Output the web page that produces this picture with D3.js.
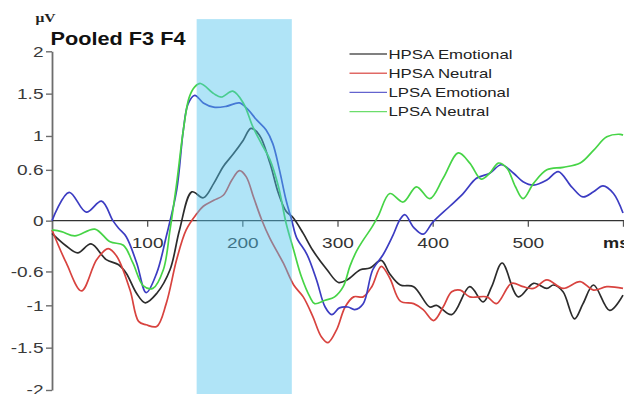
<!DOCTYPE html>
<html>
<head>
<meta charset="utf-8">
<script src="https://cdn.jsdelivr.net/npm/d3@7"></script>
<style>
  html, body { margin: 0; padding: 0; background: #fff; }
  svg { display: block; }
</style>
</head>
<body>
<div id="chart"></div>
<script>
// ---------- data (ms, µV) ----------
const hpsaEmotional = [
  [0,-0.15],[14,-0.29],[27,-0.38],[41,-0.275],[57,-0.46],[70,-0.52],[78,-0.62],[89,-0.86],[98,-0.97],
  [110,-0.86],[124,-0.58],[134,-0.11],[147,0.34],[159,0.27],[170,0.44],[180,0.64],[190,0.78],[201,0.95],
  [209,1.09],[218,1.01],[229,0.68],[238,0.32],[246,0.11],[253,0.04],[264,-0.15],[274,-0.35],[289,-0.58],
  [301,-0.73],[310,-0.70],[324,-0.58],[334,-0.56],[346,-0.47],[355,-0.63],[366,-0.76],[380,-0.78],
  [397,-1.02],[404,-1.0],[420,-1.11],[439,-0.78],[453,-0.96],[462,-0.78],[473,-0.50],[490,-0.90],
  [506,-0.74],[520,-0.80],[527,-0.76],[537,-0.84],[549,-1.16],[558,-0.98],[569,-0.76],[586,-1.06],[600,-0.88]
];
const hpsaNeutral = [
  [0,-0.11],[15,-0.50],[31,-0.83],[47,-0.46],[59,-0.33],[68,-0.42],[82,-0.82],[91,-1.19],[99,-1.23],
  [110,-1.25],[120,-0.98],[131,-0.46],[141,-0.11],[152,0.08],[159,0.17],[170,0.24],[180,0.30],[189,0.48],
  [197,0.59],[204,0.52],[212,0.27],[220,0.02],[229,-0.21],[243,-0.50],[254,-0.76],[264,-0.90],[274,-1.13],
  [283,-1.37],[290,-1.44],[299,-1.29],[308,-1.02],[317,-0.90],[327,-0.90],[336,-0.78],[346,-0.54],
  [355,-0.68],[366,-0.95],[380,-0.98],[390,-1.05],[401,-1.18],[411,-1.02],[420,-0.84],[429,-0.82],
  [439,-0.90],[457,-0.90],[467,-0.98],[483,-0.74],[495,-0.78],[506,-0.80],[520,-0.70],[537,-0.80],
  [555,-0.72],[569,-0.82],[583,-0.78],[600,-0.80]
];
const lpsaEmotional = [
  [0,0],[18,0.335],[36,0.10],[52,0.23],[64,0],[70,-0.09],[78,-0.19],[89,-0.5],[99,-0.85],[110,-0.62],
  [120,-0.19],[131,0.36],[138,1.07],[143,1.38],[150,1.48],[159,1.39],[170,1.34],[183,1.35],[197,1.39],
  [206,1.31],[215,1.19],[225,1.07],[232,0.91],[239,0.60],[246,0.24],[252,0.0],[257,-0.20],[268,-0.40],
  [278,-0.70],[287,-1.02],[294,-1.11],[302,-1.03],[311,-1.02],[318,-1.05],[327,-0.98],[337,-0.58],
  [348,-0.40],[358,-0.18],[366,0.02],[371,0.07],[380,-0.08],[390,-0.16],[400,-0.02],[418,0.17],[432,0.32],
  [446,0.50],[460,0.56],[472,0.66],[485,0.56],[495,0.46],[506,0.42],[520,0.48],[532,0.58],[546,0.40],
  [558,0.28],[569,0.34],[579,0.41],[590,0.32],[600,0.09]
];
const lpsaNeutral = [
  [0,-0.11],[10,-0.13],[24,-0.18],[45,-0.10],[61,-0.25],[75,-0.29],[85,-0.50],[96,-0.77],[106,-0.80],
  [117,-0.58],[124,-0.11],[131,0.44],[138,1.07],[144,1.45],[150,1.58],[156,1.62],[170,1.50],[178,1.46],
  [190,1.53],[201,1.39],[211,1.11],[220,0.91],[229,0.72],[238,0.40],[246,-0.03],[254,-0.35],[262,-0.66],
  [271,-0.90],[276,-0.98],[287,-0.94],[297,-0.90],[306,-0.78],[313,-0.54],[320,-0.36],[327,-0.23],
  [336,-0.08],[343,0.06],[355,0.32],[369,0.22],[383,0.40],[397,0.26],[411,0.50],[427,0.80],[439,0.68],
  [451,0.49],[460,0.56],[469,0.68],[478,0.62],[487,0.40],[495,0.26],[506,0.44],[520,0.60],[537,0.63],
  [555,0.68],[569,0.83],[583,0.99],[597,1.02],[600,1.01]
];
const seriesNames = ["HPSA Emotional", "HPSA Neutral", "LPSA Emotional", "LPSA Neutral"];
const seriesData = [hpsaEmotional, hpsaNeutral, lpsaEmotional, lpsaNeutral];
const seriesColors = ["#2c2c2c", "#d8433f", "#3c3cc2", "#46d446"];
const yTicks = [2, 1.5, 1, 0.6, 0, -0.6, -1, -1.5, -2];
const yTickLabels = ["2", "1.5", "1", "0.6", "0", "-0.6", "-1", "-1.5", "-2"];
const xTicks = [100, 200, 300, 400, 500, 600];
const xTickLabels = ["100", "200", "300", "400", "500", ""];
const shadeWindow = [152, 252];
const titleText = "Pooled F3 F4";
const unitY = "\u03BCV";
const unitX = "ms";

// ---------- layout ----------
const W = 624, H = 394;
const svg = d3.select("#chart").append("svg").attr("width", W).attr("height", H);
const x = d3.scaleLinear().domain([0, 600]).range([52, 623]);
const y = d3.scaleLinear().domain([-2, 2]).range([390, 51.3]);
const font = "'Liberation Sans', Arial, sans-serif";

// y axis
const yAxis = d3.axisLeft(y).tickValues(yTicks).tickSizeOuter(0).tickSizeInner(6)
  .tickFormat((d, i) => yTickLabels[i]);
const gy = svg.append("g").attr("transform", `translate(${x(0)},0)`).call(yAxis);
gy.select(".domain").attr("stroke", "#6d6d6d").attr("stroke-width", 1.8);
gy.selectAll(".tick line").attr("stroke", "#6d6d6d").attr("stroke-width", 1.4);
gy.selectAll(".tick text")
  .attr("x", null).attr("dy", null)
  .attr("transform", "translate(-8.5,4.8) scale(1.36,1)")
  .attr("text-anchor", "end")
  .attr("fill", "#3a3a3a")
  .style("font-family", font).style("font-size", "14px");

// x axis at zero
const xAxis = d3.axisBottom(x).tickValues(xTicks).tickSizeOuter(0).tickSizeInner(6)
  .tickFormat((d, i) => xTickLabels[i]);
const gx = svg.append("g").attr("transform", `translate(0,${y(0)})`).call(xAxis);
gx.select(".domain").attr("stroke", "#333").attr("stroke-width", 1.1)
  .attr("d", `M${x(0)},0H${W}`);
gx.selectAll(".tick line").attr("stroke", "#555").attr("stroke-width", 1.3);
gx.selectAll(".tick text")
  .attr("y", null).attr("dy", null)
  .attr("transform", "translate(0,27.5) scale(1.36,1)")
  .attr("fill", "#333")
  .style("font-family", font).style("font-size", "14px");

svg.append("text")
  .attr("transform", `translate(603,${y(0) + 27.5}) scale(1.3,1)`)
  .attr("fill", "#222").style("font-family", font).style("font-size", "14px")
  .style("font-weight", "bold").text(unitX);

// lines
const line = d3.line().x(d => x(d[0])).y(d => y(d[1])).curve(d3.curveCatmullRom.alpha(0.5));
svg.append("g").selectAll("path").data(seriesData).join("path")
  .attr("d", line).attr("fill", "none")
  .attr("stroke", (d, i) => seriesColors[i]).attr("stroke-width", 1.7)
  .attr("stroke-linejoin", "round");

// shaded window (drawn over lines, translucent)
svg.append("rect")
  .attr("x", x(shadeWindow[0])).attr("width", x(shadeWindow[1]) - x(shadeWindow[0]))
  .attr("y", y(2.38)).attr("height", H - y(2.38))
  .attr("fill", "rgb(80,195,238)").attr("fill-opacity", 0.45);

// title & unit
svg.append("text")
  .attr("transform", "translate(50.5,44.5) scale(1.24,1)")
  .attr("fill", "#111").style("font-family", font).style("font-size", "17.5px")
  .style("font-weight", "bold").text(titleText);
svg.append("text")
  .attr("transform", "translate(35.5,21.5) scale(1.2,1)")
  .attr("fill", "#222").style("font-family", "'Liberation Serif', 'Times New Roman', serif")
  .style("font-size", "13px").style("font-weight", "bold").text(unitY);

// legend
const legRows = [54, 73.2, 92.4, 111.6];
const leg = svg.append("g").selectAll("g").data(seriesNames).join("g")
  .attr("transform", (d, i) => `translate(0,${legRows[i]})`);
leg.append("line").attr("x1", 349.5).attr("x2", 387).attr("y1", 0).attr("y2", 0)
  .attr("stroke", (d, i) => seriesColors[i]).attr("stroke-width", 1.4).attr("stroke-opacity", 0.8);
leg.append("text")
  .attr("transform", "translate(388.5,4.7) scale(1.29,1)")
  .attr("fill", "#222").style("font-family", font).style("font-size", "13px")
  .text(d => d);
</script>
</body>
</html>
